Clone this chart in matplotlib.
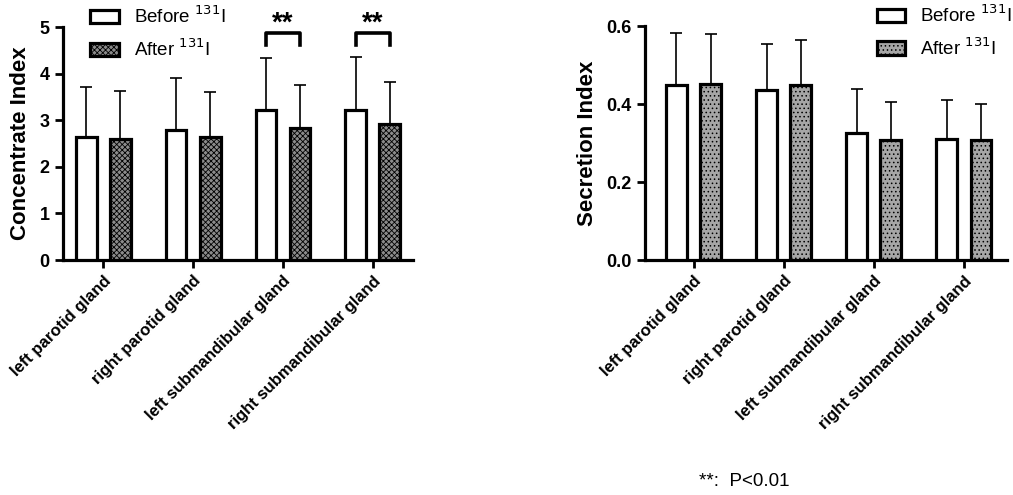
import numpy as np
import matplotlib.pyplot as plt

plt.rcParams['font.family'] = ['Liberation Sans', 'DejaVu Sans']
plt.rcParams['hatch.linewidth'] = 0.6

glands = ['left parotid gland', 'right parotid gland',
          'left submandibular gland', 'right submandibular gland']

# concentrate index (mean, upper SD)
conc_before = [2.65, 2.78, 3.22, 3.22]
conc_before_sd = [1.07, 1.12, 1.11, 1.14]
conc_after = [2.60, 2.63, 2.83, 2.92]
conc_after_sd = [1.03, 0.97, 0.93, 0.91]

# secretion index
sec_before = [0.450, 0.435, 0.325, 0.310]
sec_before_sd = [0.133, 0.120, 0.113, 0.100]
sec_after = [0.452, 0.448, 0.308, 0.307]
sec_after_sd = [0.128, 0.117, 0.097, 0.093]

# significant pairs on the concentrate panel
sig_idx = [2, 3]

fig = plt.figure(figsize=(10.13, 4.95), dpi=100)
ax1 = fig.add_axes([0.0622, 0.4747, 0.3455, 0.4707])
ax2 = fig.add_axes([0.6367, 0.4747, 0.3574, 0.4727])

x = np.arange(len(glands))
w = 0.23
off = 0.19


def panel(ax, before, bsd, after, asd, after_color, after_hatch):
    ax.bar(x - off, before, w, color='white', edgecolor='black', linewidth=2.3,
           label='Before $^{131}$I', zorder=3)
    ax.bar(x + off, after, w, color=after_color, edgecolor='black', linewidth=2.3,
           hatch=after_hatch, label='After $^{131}$I', zorder=3)
    ax.errorbar(x - off, before, yerr=[np.zeros(len(bsd)), bsd], fmt='none',
                ecolor='black', elinewidth=1.2, capsize=4, capthick=1.2, zorder=2)
    ax.errorbar(x + off, after, yerr=[np.zeros(len(asd)), asd], fmt='none',
                ecolor='black', elinewidth=1.2, capsize=4, capthick=1.2, zorder=2)
    for s in ['top', 'right']:
        ax.spines[s].set_visible(False)
    for s in ['left', 'bottom']:
        ax.spines[s].set_linewidth(2.3)
    ax.tick_params(width=2, length=6, labelsize=13)
    ax.set_xticks(x)
    ax.set_xticklabels(glands, rotation=45, ha='right', rotation_mode='anchor',
                       fontsize=12, fontweight='bold')


panel(ax1, conc_before, conc_before_sd, conc_after, conc_after_sd, '#8c8c8c', 'xxxxxx')
ax1.set_ylim(0, 5)
ax1.set_xlim(-0.45, 3.45)
ax1.set_yticks([0, 1, 2, 3, 4, 5])
ax1.set_yticklabels(['0', '1', '2', '3', '4', '5'], fontweight='bold')
ax1.set_ylabel('Concentrate Index', fontsize=16, fontweight='bold', labelpad=6)
ax1.legend(loc='upper left', bbox_to_anchor=(0.03, 1.165), frameon=False,
           fontsize=13.5, handlelength=1.5, handleheight=0.7, labelspacing=0.6)

for i in sig_idx:
    xl, xr = x[i] - off, x[i] + off
    ax1.plot([xl, xl, xr, xr], [4.61, 4.88, 4.88, 4.61], color='black', lw=2.6,
             clip_on=False)
    ax1.text(x[i], 4.93, '**', ha='center', va='baseline', fontsize=20,
             fontweight='bold')

panel(ax2, sec_before, sec_before_sd, sec_after, sec_after_sd, '#a6a6a6', '....')
ax2.set_ylim(0, 0.6)
ax2.set_xlim(-0.54, 3.48)
ax2.set_yticks([0, 0.2, 0.4, 0.6])
ax2.set_yticklabels(['0.0', '0.2', '0.4', '0.6'], fontweight='bold')
ax2.set_ylabel('Secretion Index', fontsize=16, fontweight='bold', labelpad=6)
ax2.legend(loc='upper right', bbox_to_anchor=(1.06, 1.165), frameon=False,
           fontsize=13.5, handlelength=1.5, handleheight=0.7, labelspacing=0.6)

fig.text(0.69, 0.018, '**:  P<0.01', fontsize=13.5)

fig.savefig('out.png', dpi=100)
